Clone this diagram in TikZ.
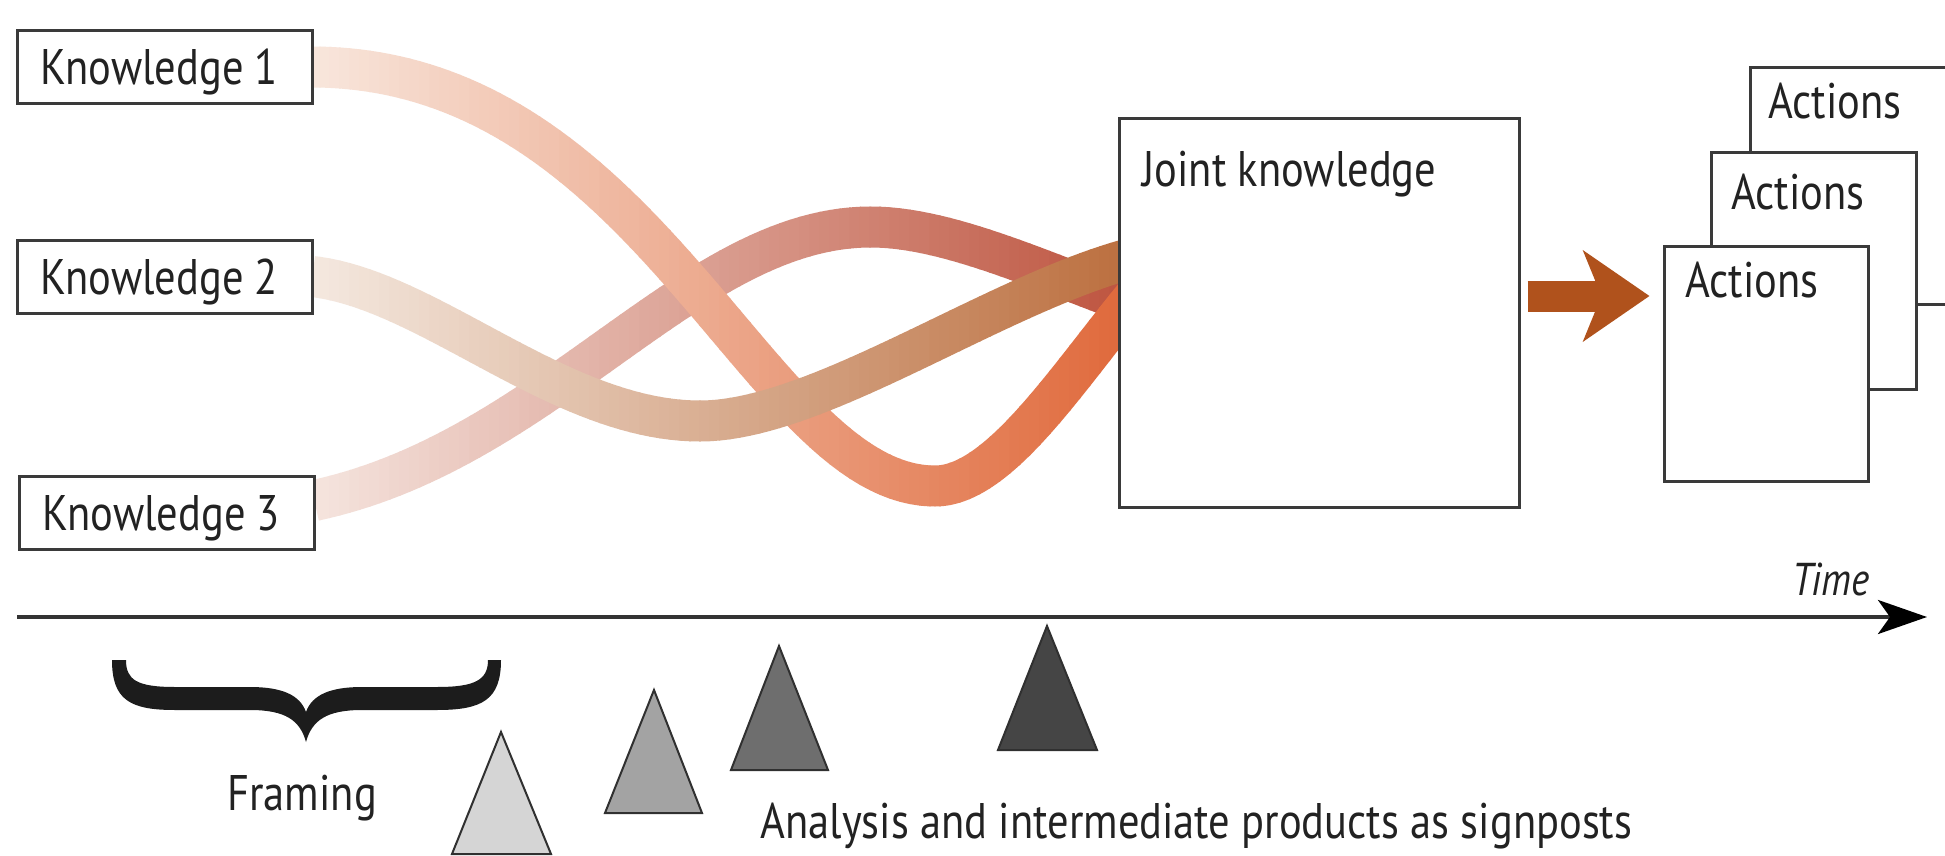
\documentclass[tikz,border=0pt]{standalone}
\usepackage{fontspec}
\setmainfont[FakeStretch=0.85]{PT Sans}
\usetikzlibrary{arrows.meta}
\definecolor{boxline}{HTML}{3A3A3A}
\definecolor{txt}{HTML}{222222}
\definecolor{r1a}{HTML}{F8E6DC}
\definecolor{r1b}{HTML}{E06A3C}
\definecolor{r2a}{HTML}{F4E8DF}
\definecolor{r2b}{HTML}{BC7040}
\definecolor{r3a}{HTML}{F5E4DE}
\definecolor{r3b}{HTML}{BE5540}
\definecolor{arrowc}{HTML}{B0521C}
\definecolor{axisc}{HTML}{333333}
\definecolor{tria}{HTML}{D5D5D5}
\definecolor{trib}{HTML}{A3A3A3}
\definecolor{tric}{HTML}{6E6E6E}
\definecolor{trid}{HTML}{454545}
\definecolor{triline}{HTML}{303030}
\definecolor{bracec}{HTML}{1C1C1C}
\newcommand\mainsz{\fontsize{25pt}{30pt}\selectfont}
\newcommand\myribbon[3]{%
  \foreach \xs in {300,310,...,1150}{%
    \pgfmathtruncatemacro\pc{max(0,min(100,(\xs+5-314)/8.05))}%
    \colorlet{ribc}{#2!\pc!#1}%
    \begin{scope}
      \clip (\xs-0.7,-10) rectangle (\xs+10.7,900);
      \draw[line width=20.5pt, ribc] #3;
    \end{scope}
  }%
}
\tikzset{
  kbox/.style={draw=boxline, line width=1.5pt, fill=white, inner sep=0pt,
    minimum width=147.5pt, minimum height=36.5pt, text height=17.5pt,
    text depth=0pt, font=\mainsz, text=txt},
  plainbox/.style={draw=boxline, line width=1.5pt, fill=white, inner sep=0pt},
  lbl/.style={anchor=base west, inner sep=0pt, font=\mainsz, text=txt},
  tri/.style={draw=triline, line width=1pt, line join=miter},
}
\begin{document}
\begin{tikzpicture}[x=0.5pt,y=-0.5pt]
\useasboundingbox (0,0) rectangle (1945,856);
\fill[white] (0,0) rectangle (1945,856);
\clip (0,0) rectangle (1945,856);

% knowledge box positions
\path (164.5,67) node[minimum width=147.5pt, minimum height=36pt, inner sep=0pt] (k1) {};
\path (164.5,276.5) node[minimum width=147.5pt, minimum height=36.5pt, inner sep=0pt] (k2) {};
\path (166.5,512.5) node[minimum width=147.5pt, minimum height=36.5pt, inner sep=0pt] (k3) {};

\coordinate (r1e) at (1140,290);
\coordinate (r2e) at (1140,256);
\coordinate (r3e) at (1140,307);

% ribbons
\myribbon{r3a}{r3b}{([yshift=6pt]k3.east) .. controls (550,450) and (690,227) .. (871,227) .. controls (950,227) and (1050,275) .. (r3e)}
\myribbon{r1a}{r1b}{(k1.east) .. controls (650,68) and (760,486) .. (935,486) .. controls (1000,486) and (1069,375) .. (r1e)}
\myribbon{r2a}{r2b}{(k2.east) .. controls (430,290) and (560,421) .. (700,421) .. controls (820,421) and (1000,290) .. (r2e)}

% boxes with text
\node[kbox] (k1b) at (k1) {\hspace*{-5pt}Knowledge 1};
\node[kbox] (k2b) at (k2) {\hspace*{-5pt}Knowledge 2};
\node[kbox] (k3b) at (k3) {\hspace*{-5pt}Knowledge 3};

\node[plainbox, minimum width=200pt, minimum height=194pt] (jk) at (1319,313) {};
\node[lbl] (jkt) at (1142,186) {Joint knowledge};

\node[plainbox, minimum width=102.5pt, minimum height=118pt] (a3) at (1852.5,186) {};
\node[lbl] (a3t) at (1768,119) {Actions};
\node[plainbox, minimum width=102.5pt, minimum height=118pt] (a2) at (1813.5,271) {};
\node[lbl] (a2t) at (1731,209) {Actions};
\node[plainbox, minimum width=102pt, minimum height=117.5pt] (a1) at (1766,363.5) {};
\node[lbl] (a1t) at (1685,297) {Actions};

% big orange arrow
\coordinate (ar) at (0,296);
\draw[line width=15.5pt, arrowc, -{Stealth[length=33pt,width=45pt,inset=9pt]},
      shorten <=3.5pt, shorten >=6.5pt] (jk.east |- ar) -- (a1.west |- ar);

% time axis
\coordinate (t0) at (17,617);
\coordinate (t1) at (1927,617);
\draw[line width=1.8pt, axisc, -{Stealth[length=24.5pt,width=17pt,inset=6pt,color=black]}] (t0) -- (t1);
\node[lbl, font=\fontsize{23pt}{28pt}\selectfont\itshape] (tm) at (1792,595) {Time};

% brace
\fill[bracec] (112,660) .. controls (112,700) and (130,710) .. (175,710)
  -- (250,710) .. controls (285,710) and (300,720) .. (306,742)
  .. controls (312,720) and (327,710) .. (362,710) -- (437,710)
  .. controls (482,710) and (501,700) .. (501,660) -- (488,660)
  .. controls (488,680) and (475,687) .. (437,687) -- (362,687)
  .. controls (330,687) and (312,695) .. (306,712)
  .. controls (300,695) and (282,687) .. (250,687) -- (175,687)
  .. controls (137,687) and (126,680) .. (126,660) -- cycle;
\node[lbl] (fr) at (227,810) {Framing};

% signpost triangles
\filldraw[tri, fill=tria] (501,732) -- (452,854) -- (551,854) -- cycle;
\filldraw[tri, fill=trib] (654,690) -- (605,813) -- (702,813) -- cycle;
\filldraw[tri, fill=tric] (779,646) -- (731,770) -- (828,770) -- cycle;
\filldraw[tri, fill=trid] (1047,626) -- (998,750) -- (1097,750) -- cycle;
\node[lbl] (an) at (760,838) {Analysis and intermediate products as signposts};
\end{tikzpicture}
\end{document}
